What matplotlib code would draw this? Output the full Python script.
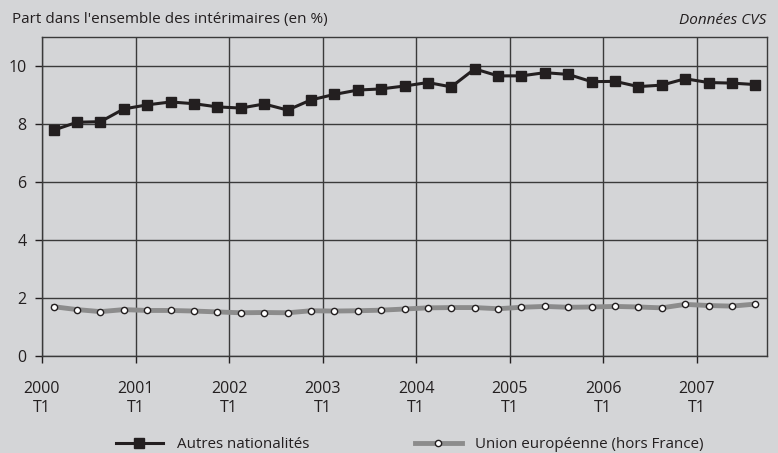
import matplotlib
matplotlib.use("Agg")
import matplotlib.pyplot as plt
from matplotlib.lines import Line2D

# Quarterly data, 2000 T1 -> 2007 T3 (31 quarters), share in % of temp workers
quarters = list(range(31))
autres = [7.79, 8.06, 8.08, 8.52, 8.66, 8.76, 8.70, 8.59, 8.55, 8.69, 8.48,
          8.83, 9.02, 9.17, 9.21, 9.31, 9.43, 9.28, 9.90, 9.66, 9.66, 9.77,
          9.71, 9.46, 9.47, 9.29, 9.34, 9.56, 9.43, 9.41, 9.36]
ue = [1.70, 1.60, 1.53, 1.60, 1.57, 1.57, 1.55, 1.52, 1.49, 1.50, 1.49,
      1.56, 1.55, 1.56, 1.58, 1.62, 1.66, 1.67, 1.67, 1.63, 1.68, 1.71,
      1.68, 1.69, 1.71, 1.69, 1.66, 1.78, 1.74, 1.72, 1.79]
years = ["2000", "2001", "2002", "2003", "2004", "2005", "2006", "2007"]
y_ticks = [0, 2, 4, 6, 8, 10]

bg = "#d4d5d7"
dark = "#231f20"
plt.rcParams["font.family"] = ["Open Sans", "DejaVu Sans"]

fig = plt.figure(figsize=(7.78, 4.53), dpi=100, facecolor=bg)
ax = fig.add_axes([42 / 778, 1 - 356 / 453, 725 / 778, 319 / 453], facecolor=bg)

ax.plot(quarters, ue, color="#8c8c8c", lw=3.5, marker="o", ms=4.5,
        mfc="white", mec=dark, mew=1.0, zorder=3)
ax.plot(quarters, autres, color=dark, lw=2.2, marker="s", ms=6.5,
        mfc=dark, mec=dark, zorder=4)

# year boundaries sit between T4 and T1
year_pos = [i * 4 - 0.5 for i in range(len(years))]
ax.set_xticks(year_pos)
ax.set_xticklabels([y + "\nT1" for y in years], fontsize=11.5, color=dark,
                   linespacing=1.25)
ax.set_xlim(-0.5, 30.5)
ax.set_ylim(0, 11)
ax.set_yticks(y_ticks)
ax.set_yticklabels([str(v) for v in y_ticks], fontsize=11.5, color=dark)

ax.grid(True, color="#3a3a3a", lw=1.0)
ax.set_axisbelow(True)
for s in ax.spines.values():
    s.set_color("#3a3a3a")
    s.set_linewidth(1.0)
ax.tick_params(axis="both", length=5, width=1.0, color=dark)
ax.tick_params(axis="x", pad=13)
ax.tick_params(axis="y", pad=6)

fig.text(12 / 778, 1 - 20 / 453, "Part dans l'ensemble des intérimaires (en %)",
         fontsize=11, color=dark, va="center", ha="left")
fig.text(766 / 778, 1 - 20 / 453, "Données CVS", fontsize=11, color=dark,
         va="center", ha="right", style="italic")

handles = [
    Line2D([], [], color=dark, lw=2.2, marker="s", ms=6.5),
    Line2D([], [], color="#8c8c8c", lw=3.5, marker="o", ms=4.5,
           mfc="white", mec=dark, mew=1.0),
]
fig.legend(handles, ["Autres nationalités", "Union européenne (hors France)"],
           loc="center", bbox_to_anchor=(410 / 778, 1 - 445 / 453), ncol=2,
           frameon=False, fontsize=10.9, handlelength=3.1, columnspacing=7,
           handletextpad=0.9, labelcolor=dark)

fig.savefig("out.png", dpi=100, facecolor=bg)
